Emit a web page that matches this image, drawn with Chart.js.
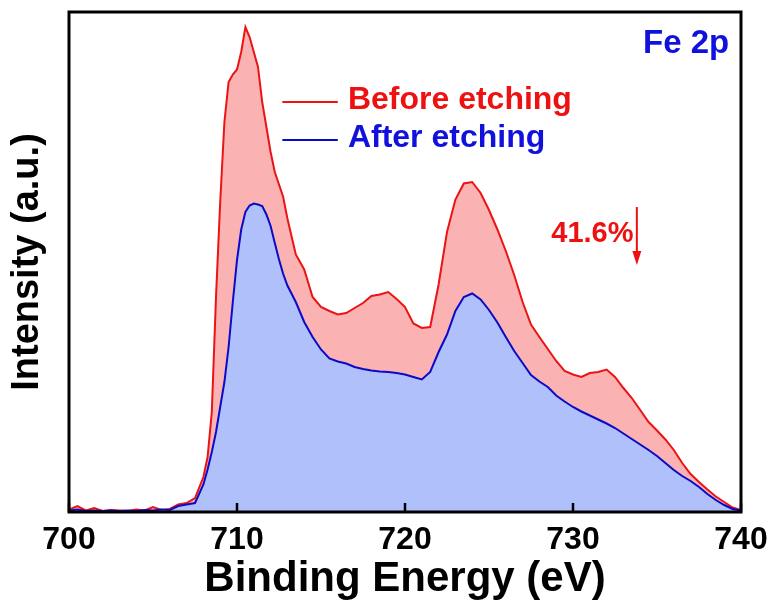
<!DOCTYPE html>
<html lang="en">
<head>
    <meta charset="UTF-8">
    <title>Fe 2p XPS</title>
    <script src="https://cdn.jsdelivr.net/npm/chart.js"></script>
    <style>
        body { margin: 0; background: #ffffff; }
        .chart-container { position: relative; width: 774px; height: 605px; }
    </style>
</head>
<body>
    <div class="chart-container">
        <canvas id="xpsChart" width="774" height="605"></canvas>
    </div>
    <script>
        // Binding energy points (eV), finer step around the main peak
        const energy = [
            700, 700.5, 701, 701.5, 702, 702.5, 703, 703.5, 704, 704.5, 705, 705.5, 706, 706.5, 707, 707.5,
            708, 708.25, 708.5, 708.75, 709, 709.25, 709.5, 709.75, 710, 710.25, 710.5, 710.75,
            711, 711.25, 711.5, 711.75, 712, 712.25, 712.5, 712.75, 713,
            713.5, 714, 714.5, 715, 715.5, 716, 716.5, 717, 717.5, 718, 718.5, 719, 719.5, 720,
            720.5, 721, 721.5, 722, 722.5, 723, 723.5, 724, 724.5, 725, 725.5, 726, 726.5, 727,
            727.5, 728, 728.5, 729, 729.5, 730, 730.5, 731, 731.5, 732, 732.5, 733, 733.5, 734,
            734.5, 735, 735.5, 736, 736.5, 737, 737.5, 738, 738.5, 739, 739.5, 740
        ];

        const beforeEtching = [
            0.5, 1.2, 0.3, 0.8, 0.2, 0.4, 0.3, 0.2, 0.5, 0.3, 1.0, 0.4, 0.6, 1.5, 1.8, 2.8,
            7, 11, 20, 43, 62, 78, 86, 87.5, 88.5, 92, 97, 95,
            92, 89, 82, 77, 72, 68, 65.5, 63, 58.7,
            51.5, 48.5, 43, 41, 40.2, 39.5, 39.8, 40.8, 41.8, 43.2, 43.5, 44, 42.6, 41,
            37.7, 36.8, 37, 45.5, 56, 62.5, 65.7, 66, 63.8, 60.4, 56.5, 52.2, 47.4, 42,
            37.5, 35, 32.6, 30.2, 28.2, 27.5, 27, 27.8, 28, 28.5, 27, 24.8, 22.8, 20.4,
            18, 16.3, 14.5, 12.4, 9.8, 7.6, 6, 4.5, 3.1, 2, 0.9, 0.4
        ];

        const afterEtching = [
            0.3, 0.5, 0.2, 0.3, 0.2, 0.3, 0.2, 0.3, 0.2, 0.4, 0.3, 0.5, 0.4, 1.2, 1.5, 1.8,
            5.5, 8.5, 12, 16, 21, 26, 33, 42, 50.4, 56.5, 60, 61.3,
            61.7, 61.5, 61.2, 59.5, 57.2, 53.8, 50.5, 47.6, 45.3,
            42, 38, 35, 32.5, 30.7, 30.1, 29.7, 29, 28.6, 28.3, 28.1, 28, 27.8, 27.5,
            27, 26.5, 28, 32, 35.5, 40.2, 43, 43.7, 42.5, 40.4, 37.9, 35, 32.2, 29.8,
            27.4, 26.1, 25, 23.3, 22.1, 21, 20.1, 19.3, 18.5, 17.7, 16.8, 15.7, 14.6, 13.5,
            12.4, 11.2, 9.8, 8.4, 7.2, 6.2, 5, 3.6, 2.4, 1.4, 0.6, 0.3
        ];

        const xTicks = [700, 710, 720, 730, 740];
        const seriesLabels = ['Before etching', 'After etching'];

        const FONT = '"Liberation Sans", Arial, sans-serif';
        const RED = '#ee1111';
        const BLUE = '#1111dd';

        const toPoints = vals => energy.map((e, i) => ({ x: e, y: vals[i] }));

        // Frame, inner ticks, legend and text labels
        const decorPlugin = {
            id: 'decor',
            afterDraw(chart) {
                const { ctx, chartArea: a, scales: { x, y } } = chart;
                ctx.save();

                // inner tick marks on bottom axis
                ctx.strokeStyle = '#000';
                ctx.lineWidth = 2.5;
                xTicks.forEach(t => {
                    const px = x.getPixelForValue(t);
                    ctx.beginPath();
                    ctx.moveTo(px, a.bottom);
                    ctx.lineTo(px, a.bottom - 9);
                    ctx.stroke();
                });

                // box
                ctx.lineWidth = 3;
                ctx.strokeRect(a.left, a.top, a.right - a.left, a.bottom - a.top);

                // legend
                ctx.lineWidth = 2;
                ctx.font = 'bold 32px ' + FONT;
                ctx.textBaseline = 'middle';
                ctx.textAlign = 'left';
                const rows = [[82, RED], [74.4, BLUE]];
                chart.data.datasets.forEach((ds, i) => {
                    const py = y.getPixelForValue(rows[i][0]);
                    ctx.strokeStyle = ds.borderColor;
                    ctx.beginPath();
                    ctx.moveTo(x.getPixelForValue(712.7), py);
                    ctx.lineTo(x.getPixelForValue(716.0), py);
                    ctx.stroke();
                    ctx.fillStyle = rows[i][1];
                    ctx.fillText(ds.label, x.getPixelForValue(716.6), py - 2);
                });

                // Fe 2p
                ctx.fillStyle = BLUE;
                ctx.textAlign = 'right';
                ctx.font = 'bold 33px ' + FONT;
                ctx.fillText('Fe 2p', x.getPixelForValue(739.3), y.getPixelForValue(93.6));

                // 41.6% with arrow
                ctx.fillStyle = RED;
                ctx.font = 'bold 29px ' + FONT;
                ctx.fillText('41.6%', x.getPixelForValue(733.6), y.getPixelForValue(55.6));
                const ax = x.getPixelForValue(733.8);
                const top = y.getPixelForValue(61);
                const bot = y.getPixelForValue(49.4);
                ctx.strokeStyle = RED;
                ctx.lineWidth = 2;
                ctx.beginPath();
                ctx.moveTo(ax, top);
                ctx.lineTo(ax, bot - 10);
                ctx.stroke();
                ctx.beginPath();
                ctx.moveTo(ax - 4.5, bot - 14);
                ctx.lineTo(ax + 4.5, bot - 14);
                ctx.lineTo(ax, bot);
                ctx.closePath();
                ctx.fill();

                ctx.restore();
            }
        };

        new Chart(document.getElementById('xpsChart'), {
            type: 'line',
            data: {
                datasets: [
                    {
                        label: seriesLabels[0],
                        data: toPoints(beforeEtching),
                        borderColor: 'rgb(235, 20, 20)',
                        backgroundColor: 'rgb(250, 178, 178)',
                        borderWidth: 2,
                        pointRadius: 0,
                        fill: 'origin',
                        order: 1
                    },
                    {
                        label: seriesLabels[1],
                        data: toPoints(afterEtching),
                        borderColor: 'rgb(10, 10, 200)',
                        backgroundColor: 'rgb(176, 192, 250)',
                        borderWidth: 2,
                        pointRadius: 0,
                        fill: 'origin',
                        order: 0
                    }
                ]
            },
            options: {
                responsive: false,
                animation: false,
                events: [],
                layout: { padding: { top: 12, right: 33, left: 0, bottom: 0 } },
                plugins: { legend: { display: false }, tooltip: { enabled: false } },
                scales: {
                    x: {
                        type: 'linear',
                        min: 700,
                        max: 740,
                        afterBuildTicks: s => { s.ticks = xTicks.map(v => ({ value: v })); },
                        afterFit: s => { s.height = 93; },
                        grid: { display: false },
                        border: { display: false },
                        ticks: {
                            color: '#000',
                            padding: 1,
                            maxRotation: 0,
                            autoSkip: false,
                            font: { family: FONT, size: 32, weight: 'bold' }
                        },
                        title: {
                            display: true,
                            text: 'Binding Energy (eV)',
                            color: '#000',
                            padding: { top: 0, bottom: 0 },
                            font: { family: FONT, size: 42, weight: 'bold' }
                        }
                    },
                    y: {
                        min: 0,
                        max: 100,
                        afterFit: s => { s.width = 69; },
                        grid: { display: false },
                        border: { display: false },
                        ticks: { display: false },
                        title: {
                            display: true,
                            text: 'Intensity (a.u.)',
                            color: '#000',
                            padding: { top: 5, bottom: 0 },
                            font: { family: FONT, size: 38, weight: 'bold' }
                        }
                    }
                }
            },
            plugins: [decorPlugin]
        });
    </script>
</body>
</html>
